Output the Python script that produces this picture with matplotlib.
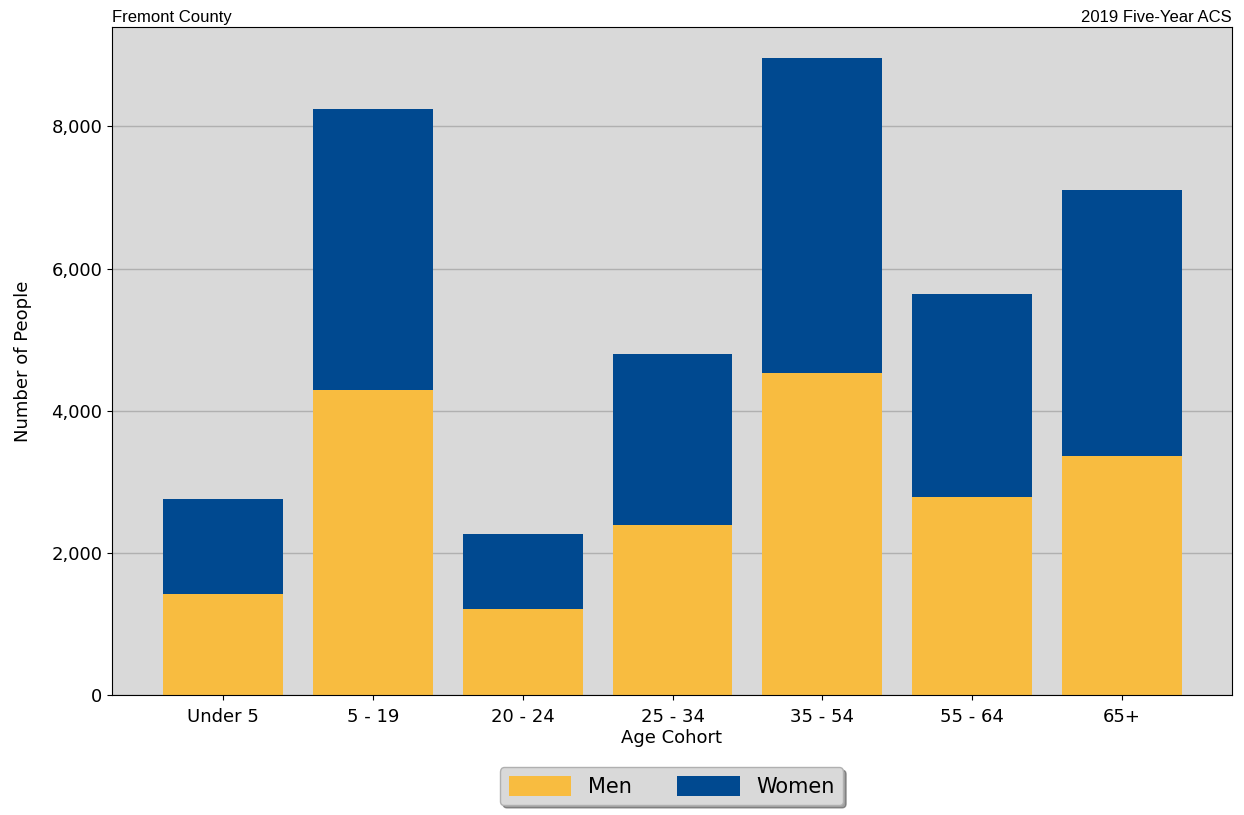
import matplotlib
matplotlib.use("Agg")
import matplotlib.pyplot as plt
from matplotlib.ticker import FuncFormatter

cohorts = ["Under 5", "5 - 19", "20 - 24", "25 - 34", "35 - 54", "55 - 64", "65+"]
men = [1420, 4290, 1210, 2390, 4530, 2790, 3370]
women = [1340, 3950, 1060, 2410, 4430, 2860, 3730]

fig = plt.figure(figsize=(12.44, 8.15), dpi=100)
ax = fig.add_axes([0.09, 0.147, 0.900, 0.820])
ax.set_facecolor("#d9d9d9")
ax.set_axisbelow(True)
ax.yaxis.grid(True, color="#b0b0b0", linewidth=1)

x = range(len(cohorts))
ax.bar(x, men, width=0.8, color="#f8bc40", label="Men")
ax.bar(x, women, width=0.8, bottom=men, color="#004990", label="Women")

ax.set_xlim(-0.74, 6.73)
ax.set_ylim(0, 9400)
ax.set_xticks(list(x))
ax.set_xticklabels(cohorts, fontsize=13)
ax.set_yticks([0, 2000, 4000, 6000, 8000])
ax.yaxis.set_major_formatter(FuncFormatter(lambda v, p: f"{int(v):,}"))
ax.tick_params(axis="y", labelsize=13)
ax.tick_params(axis="x", pad=6)
ax.set_xlabel("Age Cohort", fontsize=13, labelpad=2)
ax.set_ylabel("Number of People", fontsize=13, labelpad=14)

ax.text(0, 1.003, "Fremont County", transform=ax.transAxes, fontsize=12,
        ha="left", va="bottom", family="Liberation Sans")
ax.text(1, 1.003, "2019 Five-Year ACS", transform=ax.transAxes, fontsize=12,
        ha="right", va="bottom", family="Liberation Sans")

leg = ax.legend(loc="upper center", bbox_to_anchor=(0.5, -0.108), ncol=2,
                fontsize=15, shadow=True, facecolor="#d9d9d9", framealpha=1,
                edgecolor="#b0b0b0", handlelength=3, handleheight=1.1,
                columnspacing=2.2, borderaxespad=0)

fig.savefig("out.png", dpi=100)
